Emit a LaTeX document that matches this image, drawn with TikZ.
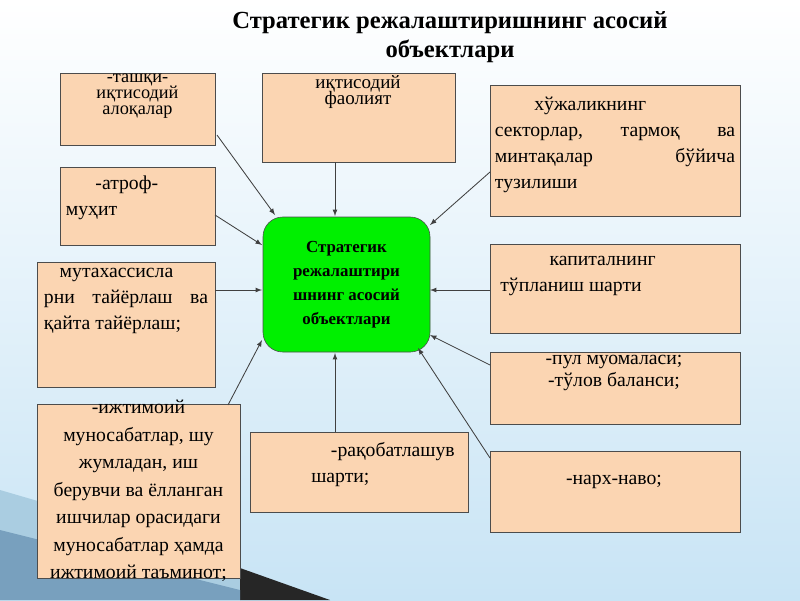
\documentclass[tikz,border=0pt]{standalone}
\usepackage{fontspec}
\setmainfont{Liberation Serif}
\definecolor{peach}{RGB}{251,213,178}
\definecolor{bgb}{RGB}{200,228,245}
\definecolor{dec1}{RGB}{170,205,225}
\definecolor{dec2}{RGB}{120,160,190}
\definecolor{gr}{RGB}{0,240,0}
\newcommand{\jl}[2]{\hbox to #1{#2}}
\begin{document}
\begin{tikzpicture}[x=0.025cm,y=-0.025cm,
 box/.style={draw=black!70,fill=peach,line width=0.6pt},
 txt/.style={font=\fontsize{14}{18.5}\selectfont,align=center},
 arr/.style={-latex,black!75,line width=0.6pt}]
\shade[top color=white,bottom color=bgb] (0,0) rectangle (800,600);
\useasboundingbox (0,0) rectangle (800,600);
\fill[dec1] (0,490) -- (240,560) -- (240,600) -- (0,600) -- cycle;
\fill[black!85] (240,568) -- (330,600) -- (240,600) -- cycle;
\fill[dec2] (0,530) -- (240,590) -- (240,600) -- (0,600) -- cycle;
\node[font=\bfseries\fontsize{17.5}{21}\selectfont,align=center] (title) at (450,37) {Стратегик режалаштиришнинг асосий\\ объектлари};
\node[draw=black!70,fill=gr,rounded corners=14pt,minimum width=167*0.025cm,minimum height=135*0.025cm,font=\bfseries\fontsize{12}{17}\selectfont,align=center] (c) at (346.5,284.5) {Стратегик\\ режалаштири\\ шнинг асосий\\ объектлари};
\draw[box] (60,73) rectangle (215,145); \coordinate (b1) at (217,135);
\node[txt,font=\fontsize{13}{11.5}\selectfont] (t1) at (137.5,96) {-ташқи-\\ иқтисодий\\ алоқалар};
\draw[box] (262,73) rectangle (455,162);
\node[txt,font=\fontsize{13.5}{12}\selectfont] (t2) at (358,92) {иқтисодий\\ фаолият};
\draw[box] (490,85) rectangle (740,216);
\node[txt,align=left] (t3) at (615,145) {\jl{6cm}{\hspace*{2em}хўжаликнинг\hfill}\\ \jl{6cm}{секторлар,\hfill тармоқ\hfill ва}\\ \jl{6cm}{минтақалар\hfill бўйича}\\ тузилиши};
\draw[box] (60,167) rectangle (215,245);
\node[txt,align=left] (t4) at (112,198) {\hspace*{1.5em}-атроф-\\ муҳит};
\draw[box] (37,262) rectangle (215,387);
\node[txt,align=left] (t5) at (126,301) {\jl{4.1cm}{\hspace*{0.8em}мутахассисла\hfill}\\ \jl{4.1cm}{рни\hfill тайёрлаш\hfill ва}\\ қайта тайёрлаш;};
\draw[box] (37,404) rectangle (240,578);
\node[txt,font=\fontsize{14}{19.5}\selectfont] (t6) at (138.5,491) {-ижтимоий\\ муносабатлар, шу\\ жумладан, иш\\ берувчи ва ёлланган\\ ишчилар орасидаги\\ муносабатлар ҳамда\\ ижтимоий таъминот;};
\draw[box] (250,432) rectangle (468,512);
\node[txt,align=left] (t7) at (383,465) {\hspace*{1em}-рақобатлашув\\ шарти;};
\draw[box] (490,244) rectangle (740,333);
\node[txt,align=left] (t8) at (578,276) {\hspace*{2.5em}капиталнинг\\ тўпланиш шарти};
\draw[box] (490,352) rectangle (740,424);
\node[txt,font=\fontsize{14}{15}\selectfont] (t9) at (614,373) {-пул муомаласи;\\ -тўлов баланси;};
\draw[box] (490,451) rectangle (740,532);
\node[txt] (t10) at (614,482) {-нарх-наво;};
\coordinate (s2) at (335,162); \coordinate (s3) at (490,172); \coordinate (s4) at (215,215);
\coordinate (s5) at (215,290); \coordinate (s6) at (228,405); \coordinate (s7) at (335,432);
\coordinate (s8) at (490,290); \coordinate (s9) at (490,365); \coordinate (s10) at (490,458);
\coordinate (e1) at (275,215); \coordinate (e2) at (335,216); \coordinate (e3) at (430,225);
\coordinate (e4) at (262,245); \coordinate (e5) at (262,290); \coordinate (e6) at (262,340);
\coordinate (e7) at (335,353); \coordinate (e8) at (430,290); \coordinate (e9) at (430,335);
\coordinate (e10) at (418,348);
\draw[arr] (b1)--(e1); \draw[arr] (s2)--(e2); \draw[arr] (s3)--(e3); \draw[arr] (s4)--(e4);
\draw[arr] (s5)--(e5); \draw[arr] (s6)--(e6); \draw[arr] (s7)--(e7); \draw[arr] (s8)--(e8);
\draw[arr] (s9)--(e9); \draw[arr] (s10)--(e10);
\end{tikzpicture}
\end{document}
